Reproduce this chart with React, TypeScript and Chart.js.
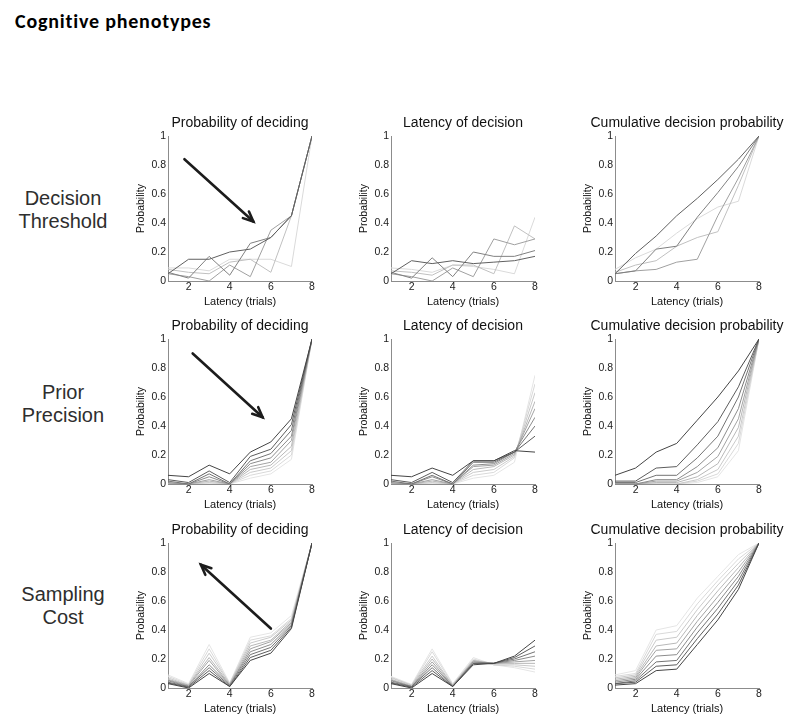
import React, { useEffect, useRef } from "react";
import { Chart, registerables } from "chart.js";

Chart.register(...registerables);

// ---------- data ----------
const xValues = [1, 2, 3, 4, 5, 6, 7, 8];
const xTicks = [2, 4, 6, 8];
const yTicks = [0, 0.2, 0.4, 0.6, 0.8, 1];

const panelTitles = ["Probability of deciding", "Latency of decision", "Cumulative decision probability"];
const rowLabels = [["Decision", "Threshold"], ["Prior", "Precision"], ["Sampling", "Cost"]];
const xAxisTitle = "Latency (trials)";
const yAxisTitle = "Probability";

// Row 1: Decision Threshold (5 series, dark -> light)
const thresholdDeciding = [
  [0.05, 0.15, 0.15, 0.2, 0.22, 0.3, 0.45, 1],
  [0.06, 0.02, 0.17, 0.04, 0.26, 0.3, 0.45, 1],
  [0.05, 0.03, 0.0, 0.11, 0.03, 0.35, 0.45, 1],
  [0.08, 0.06, 0.05, 0.13, 0.15, 0.06, 0.45, 1],
  [0.09, 0.09, 0.07, 0.15, 0.15, 0.15, 0.1, 1],
];
const thresholdLatency = [
  [0.05, 0.14, 0.12, 0.14, 0.12, 0.13, 0.14, 0.17],
  [0.06, 0.02, 0.16, 0.03, 0.2, 0.17, 0.17, 0.21],
  [0.05, 0.03, 0.0, 0.09, 0.03, 0.29, 0.25, 0.29],
  [0.07, 0.06, 0.04, 0.11, 0.11, 0.05, 0.38, 0.29],
  [0.09, 0.08, 0.06, 0.11, 0.1, 0.08, 0.05, 0.44],
];
const thresholdCumulative = [
  [0.05, 0.19, 0.31, 0.45, 0.57, 0.7, 0.84, 1],
  [0.05, 0.07, 0.22, 0.24, 0.44, 0.61, 0.79, 1],
  [0.05, 0.07, 0.08, 0.13, 0.15, 0.45, 0.71, 1],
  [0.06, 0.11, 0.14, 0.24, 0.3, 0.34, 0.66, 1],
  [0.08, 0.16, 0.22, 0.33, 0.43, 0.51, 0.55, 1],
];

// Row 2: Prior Precision (9 series, dark -> light)
const precisionDeciding = [
  [0.06, 0.05, 0.13, 0.07, 0.22, 0.29, 0.45, 1],
  [0.03, 0.01, 0.09, 0.01, 0.19, 0.24, 0.41, 1],
  [0.02, 0.0, 0.07, 0.0, 0.16, 0.21, 0.37, 1],
  [0.01, 0.0, 0.05, 0.0, 0.14, 0.18, 0.33, 1],
  [0.0, 0.0, 0.03, 0.0, 0.12, 0.15, 0.3, 1],
  [0.0, 0.0, 0.02, 0.0, 0.1, 0.13, 0.26, 1],
  [0.0, 0.0, 0.01, 0.0, 0.08, 0.11, 0.23, 1],
  [0.0, 0.0, 0.0, 0.0, 0.06, 0.09, 0.2, 1],
  [0.0, 0.0, 0.0, 0.0, 0.04, 0.07, 0.17, 1],
];
const precisionLatency = [
  [0.06, 0.05, 0.11, 0.06, 0.16, 0.16, 0.23, 0.22],
  [0.03, 0.01, 0.08, 0.01, 0.16, 0.16, 0.22, 0.33],
  [0.02, 0.0, 0.06, 0.0, 0.15, 0.15, 0.22, 0.4],
  [0.01, 0.0, 0.05, 0.0, 0.13, 0.14, 0.22, 0.46],
  [0.0, 0.0, 0.03, 0.0, 0.12, 0.13, 0.21, 0.52],
  [0.0, 0.0, 0.02, 0.0, 0.1, 0.12, 0.2, 0.57],
  [0.0, 0.0, 0.01, 0.0, 0.08, 0.1, 0.19, 0.63],
  [0.0, 0.0, 0.0, 0.0, 0.06, 0.08, 0.18, 0.69],
  [0.0, 0.0, 0.0, 0.0, 0.04, 0.06, 0.15, 0.75],
];
const precisionCumulative = [
  [0.06, 0.11, 0.22, 0.28, 0.44, 0.6, 0.78, 1],
  [0.02, 0.02, 0.11, 0.12, 0.27, 0.43, 0.67, 1],
  [0.01, 0.01, 0.06, 0.06, 0.18, 0.33, 0.6, 1],
  [0.0, 0.0, 0.03, 0.03, 0.12, 0.25, 0.52, 1],
  [0.0, 0.0, 0.02, 0.02, 0.08, 0.19, 0.45, 1],
  [0.0, 0.0, 0.01, 0.01, 0.05, 0.14, 0.39, 1],
  [0.0, 0.0, 0.0, 0.0, 0.03, 0.1, 0.33, 1],
  [0.0, 0.0, 0.0, 0.0, 0.02, 0.07, 0.28, 1],
  [0.0, 0.0, 0.0, 0.0, 0.01, 0.05, 0.23, 1],
];

// Row 3: Sampling Cost (9 series, dark -> light)
const costDeciding = [
  [0.03, 0.0, 0.1, 0.01, 0.19, 0.24, 0.41, 1],
  [0.035, 0.005, 0.12, 0.01, 0.21, 0.26, 0.42, 1],
  [0.04, 0.01, 0.14, 0.015, 0.23, 0.28, 0.43, 1],
  [0.05, 0.01, 0.16, 0.02, 0.25, 0.3, 0.44, 1],
  [0.055, 0.015, 0.19, 0.02, 0.27, 0.32, 0.45, 1],
  [0.06, 0.02, 0.21, 0.025, 0.29, 0.33, 0.46, 1],
  [0.07, 0.02, 0.24, 0.03, 0.31, 0.35, 0.47, 1],
  [0.08, 0.025, 0.27, 0.03, 0.33, 0.36, 0.48, 1],
  [0.09, 0.03, 0.3, 0.035, 0.35, 0.38, 0.5, 1],
];
const costLatency = [
  [0.03, 0.0, 0.1, 0.01, 0.16, 0.17, 0.22, 0.33],
  [0.035, 0.005, 0.12, 0.01, 0.17, 0.17, 0.21, 0.29],
  [0.04, 0.01, 0.14, 0.01, 0.17, 0.17, 0.2, 0.25],
  [0.05, 0.01, 0.16, 0.015, 0.18, 0.17, 0.19, 0.22],
  [0.055, 0.01, 0.18, 0.015, 0.18, 0.17, 0.18, 0.19],
  [0.06, 0.015, 0.2, 0.02, 0.19, 0.17, 0.17, 0.17],
  [0.07, 0.02, 0.22, 0.02, 0.19, 0.16, 0.16, 0.15],
  [0.075, 0.02, 0.25, 0.025, 0.2, 0.16, 0.15, 0.13],
  [0.08, 0.025, 0.27, 0.03, 0.21, 0.16, 0.14, 0.11],
];
const costCumulative = [
  [0.02, 0.03, 0.12, 0.13, 0.3, 0.47, 0.68, 1],
  [0.03, 0.04, 0.15, 0.16, 0.34, 0.51, 0.71, 1],
  [0.03, 0.05, 0.18, 0.19, 0.38, 0.55, 0.74, 1],
  [0.04, 0.06, 0.22, 0.23, 0.42, 0.59, 0.77, 1],
  [0.05, 0.07, 0.26, 0.27, 0.46, 0.63, 0.8, 1],
  [0.06, 0.08, 0.29, 0.31, 0.5, 0.67, 0.83, 1],
  [0.07, 0.09, 0.33, 0.35, 0.54, 0.71, 0.86, 1],
  [0.08, 0.1, 0.37, 0.39, 0.58, 0.74, 0.89, 1],
  [0.09, 0.12, 0.4, 0.43, 0.62, 0.77, 0.92, 1],
];

// arrows: [fromX, fromY, toX, toY] in data units (head at "to")
const thresholdArrow = [1.8, 0.84, 5.15, 0.41];
const precisionArrow = [2.2, 0.9, 5.6, 0.46];
const costArrow = [6.0, 0.41, 2.6, 0.85];

// ---------- styles ----------
const fiveGrays = ["#606060", "#808080", "#a0a0a0", "#c0c0c0", "#dadada"];
const nineGrays = ["#444444", "#5c5c5c", "#747474", "#8c8c8c", "#a3a3a3", "#b8b8b8", "#cacaca", "#d9d9d9", "#e5e5e5"];
const FONT = "'Liberation Sans', Arial, Helvetica, sans-serif";

const colLefts = [168, 391, 615];
const rowTops = [136, 339, 543];
const PLOT_W = 144;
const PLOT_H = 145;
const PAD_L = 52;
const PAD_T = 30;
const PAD_R = 52;
const PAD_B = 34;

const arrowPlugin = {
  id: "arrowMark",
  afterDatasetsDraw(chart: any, _args: any, opts: any) {
    if (!opts || opts.fx === undefined) return;
    const xs = chart.scales.x;
    const ys = chart.scales.y;
    const x1 = xs.getPixelForValue(opts.fx);
    const y1 = ys.getPixelForValue(opts.fy);
    const x2 = xs.getPixelForValue(opts.tx);
    const y2 = ys.getPixelForValue(opts.ty);
    const ctx = chart.ctx;
    const ang = Math.atan2(y2 - y1, x2 - x1);
    const hl = 11;
    const spread = 0.42;
    ctx.save();
    ctx.strokeStyle = "#1c1c1c";
    ctx.lineWidth = 2.6;
    ctx.lineCap = "round";
    ctx.lineJoin = "miter";
    ctx.beginPath();
    ctx.moveTo(x1, y1);
    ctx.lineTo(x2, y2);
    ctx.stroke();
    ctx.beginPath();
    ctx.moveTo(x2 - hl * Math.cos(ang - spread), y2 - hl * Math.sin(ang - spread));
    ctx.lineTo(x2, y2);
    ctx.lineTo(x2 - hl * Math.cos(ang + spread), y2 - hl * Math.sin(ang + spread));
    ctx.stroke();
    ctx.restore();
  },
};

type PanelProps = {
  series: number[][];
  colors: string[];
  title: string;
  arrow?: number[];
  left: number;
  top: number;
};

function Panel({ series, colors, title, arrow, left, top }: PanelProps) {
  const ref = useRef<HTMLCanvasElement | null>(null);
  useEffect(() => {
    if (!ref.current) return;
    const tickFont = { family: FONT, size: 10.5, lineHeight: 1.2 };
    const chart = new Chart(ref.current, {
      type: "line",
      data: {
        datasets: series.map((s, i) => ({
          data: s.map((v, j) => ({ x: xValues[j], y: v })),
          borderColor: colors[i],
          borderWidth: 1,
          pointRadius: 0,
          tension: 0,
          fill: false,
        })),
      },
      options: {
        animation: false,
        responsive: false,
        events: [],
        layout: { padding: 0 },
        plugins: {
          legend: { display: false },
          tooltip: { enabled: false },
          title: {
            display: true,
            text: title,
            fullSize: true,
            color: "#111",
            font: { family: FONT, size: 14, weight: "normal", lineHeight: 1.2 },
            padding: { top: 8.6, bottom: 4.6 },
          },
          arrowMark: arrow
            ? { fx: arrow[0], fy: arrow[1], tx: arrow[2], ty: arrow[3] }
            : false,
        } as any,
        scales: {
          x: {
            type: "linear",
            min: 1,
            max: 8,
            afterBuildTicks: (s: any) => {
              s.ticks = xTicks.map((v) => ({ value: v }));
            },
            afterFit: (s: any) => {
              s.height = PAD_B;
            },
            grid: { display: false, drawTicks: false },
            border: { display: true, color: "#8c8c8c", width: 1 },
            ticks: {
              font: tickFont,
              color: "#1a1a1a",
              padding: 0,
              maxRotation: 0,
              callback: (v: any) => String(v),
            },
            title: {
              display: true,
              text: xAxisTitle,
              color: "#111",
              font: { family: FONT, size: 11, lineHeight: 1.2 },
              padding: { top: 0, bottom: 6 },
            },
          },
          y: {
            type: "linear",
            position: "left",
            min: 0,
            max: 1,
            afterBuildTicks: (s: any) => {
              s.ticks = yTicks.map((v) => ({ value: v }));
            },
            afterFit: (s: any) => {
              s.width = PAD_L;
            },
            grid: { display: false, drawTicks: false },
            border: { display: true, color: "#8c8c8c", width: 1 },
            ticks: {
              font: tickFont,
              color: "#1a1a1a",
              padding: 2,
              callback: (v: any) => String(Math.round(Number(v) * 10) / 10),
            },
            title: {
              display: true,
              text: yAxisTitle,
              color: "#111",
              font: { family: FONT, size: 10.5, lineHeight: 1.2 },
              padding: { top: 18.7, bottom: 0 },
            },
          },
          // invisible spacer on the right so the panel title centres over the plot
          spacer: {
            type: "linear",
            position: "right",
            display: true,
            min: 0,
            max: 1,
            afterFit: (s: any) => {
              s.width = PAD_R;
            },
            grid: { display: false, drawTicks: false },
            border: { display: false },
            ticks: { display: false },
            title: { display: false },
          },
        },
      } as any,
      plugins: [arrowPlugin],
    });
    return () => chart.destroy();
  }, [series, colors, title, arrow]);

  const w = PAD_L + PLOT_W + PAD_R;
  const h = PAD_T + PLOT_H + PAD_B;
  return (
    <canvas
      ref={ref}
      width={w}
      height={h}
      style={{ position: "absolute", left: left - PAD_L, top: top - PAD_T, width: w, height: h, display: "block" }}
    />
  );
}

const rows = [
  { data: [thresholdDeciding, thresholdLatency, thresholdCumulative], colors: fiveGrays, arrow: thresholdArrow },
  { data: [precisionDeciding, precisionLatency, precisionCumulative], colors: nineGrays, arrow: precisionArrow },
  { data: [costDeciding, costLatency, costCumulative], colors: nineGrays, arrow: costArrow },
];

const rowLabelTops = [186.5, 380.5, 582.5];

export default function App() {
  return (
    <div
      style={{
        position: "absolute",
        left: 0,
        top: 0,
        width: 800,
        height: 726,
        background: "#fff",
        overflow: "hidden",
      }}
    >
      <div
        style={{
          position: "absolute",
          left: 15,
          top: 11,
          fontFamily: "Carlito, Calibri, Lato, sans-serif",
          fontWeight: 700,
          fontSize: 20,
          letterSpacing: 0.8,
          fontVariantLigatures: "none",
          lineHeight: "20px",
          color: "#000",
          whiteSpace: "nowrap",
        }}
      >
        Cognitive phenotypes
      </div>
      {rowLabels.map((lines, r) => (
        <div
          key={"rl" + r}
          style={{
            position: "absolute",
            left: 0,
            width: 126,
            top: rowLabelTops[r],
            textAlign: "center",
            fontFamily: FONT,
            fontSize: 20,
            lineHeight: "23px",
            color: "#2e2e2e",
          }}
        >
          {lines.map((t, k) => (
            <div key={k}>{t}</div>
          ))}
        </div>
      ))}
      {rows.map((row, r) =>
        row.data.map((series, c) => (
          <Panel
            key={r + "-" + c}
            series={series}
            colors={row.colors}
            title={panelTitles[c]}
            arrow={c === 0 ? row.arrow : undefined}
            left={colLefts[c]}
            top={rowTops[r]}
          />
        ))
      )}
    </div>
  );
}
